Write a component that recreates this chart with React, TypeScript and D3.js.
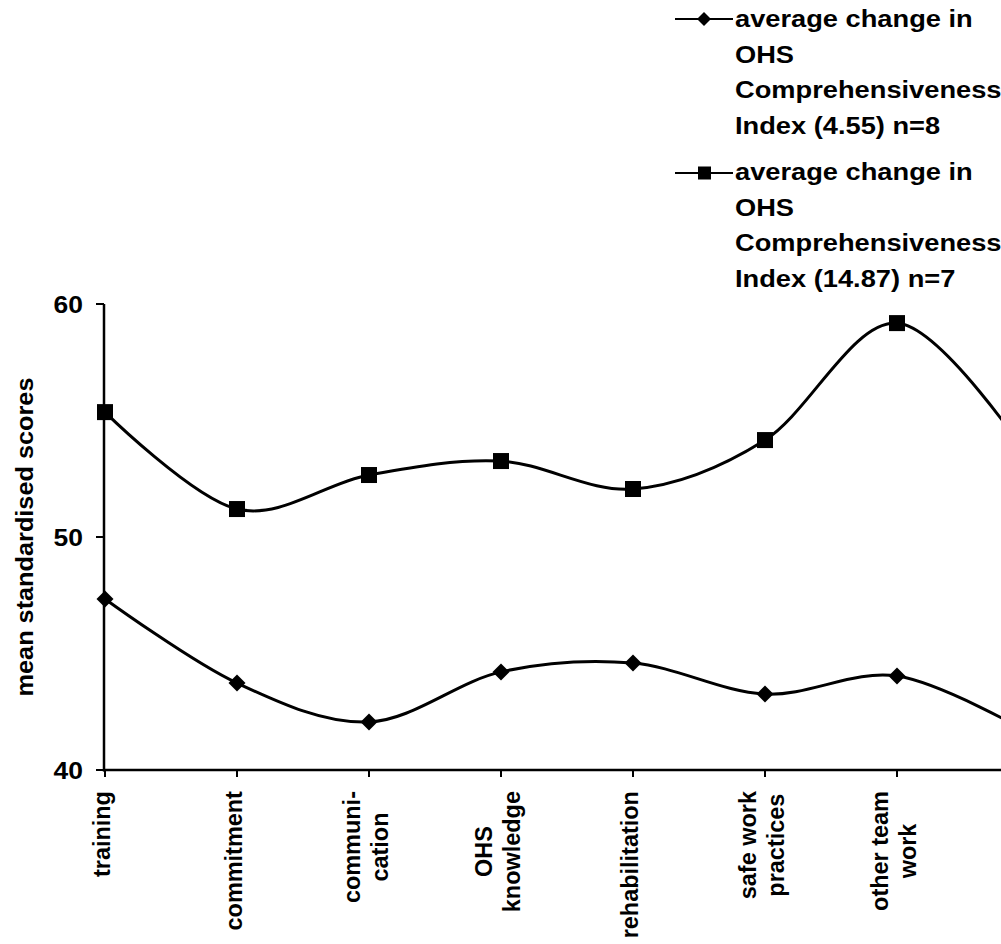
import React from "react";
import * as d3 from "d3";

const categories = [
  "training",
  "commitment",
  "communication",
  "OHS knowledge",
  "rehabilitation",
  "safe work practices",
  "other team work",
  "(beyond edge)",
];
const categoryLabelLines: string[][] = [
  ["training"],
  ["commitment"],
  ["communi-", "cation"],
  ["OHS", "knowledge"],
  ["rehabilitation"],
  ["safe work", "practices"],
  ["other team", "work"],
  [],
];
const seriesLow = [47.34, 43.73, 42.06, 44.21, 44.59, 43.26, 44.03, 41.6];
const seriesHigh = [55.36, 51.2, 52.66, 53.26, 52.06, 54.16, 59.18, 53.4];
const yTicks = [40, 50, 60];
const yTitle = "mean standardised scores";
const legendLow = ["average change in", "OHS", "Comprehensiveness", "Index (4.55) n=8"];
const legendHigh = ["average change in", "OHS", "Comprehensiveness", "Index (14.87) n=7"];

const FONT = "'Liberation Sans', Arial, Helvetica, sans-serif";

export default function App() {
  const ref = React.useRef<SVGSVGElement>(null);

  React.useEffect(() => {
    const svg = d3.select(ref.current);
    svg.selectAll("*").remove();

    const x = d3.scalePoint<string>().domain(categories).range([105, 1029]);
    const y = d3.scaleLinear().domain([40, 60]).range([770, 304]);
    const axisX = 104;

    const g = svg.append("g");

    // Axes
    g.append("line")
      .attr("x1", axisX).attr("x2", axisX)
      .attr("y1", y(60)).attr("y2", y(40) + 1.5)
      .attr("stroke", "#000").attr("stroke-width", 2.5);
    g.append("line")
      .attr("x1", axisX - 1).attr("x2", 1010)
      .attr("y1", y(40)).attr("y2", y(40))
      .attr("stroke", "#000").attr("stroke-width", 2.5);
    yTicks.forEach((t) => {
      g.append("line")
        .attr("x1", axisX - 8).attr("x2", axisX)
        .attr("y1", y(t)).attr("y2", y(t))
        .attr("stroke", "#000").attr("stroke-width", 2);
      g.append("text")
        .attr("transform", `translate(83,${y(t) + 8.5}) scale(1.08,1)`)
        .attr("text-anchor", "end")
        .attr("font-family", FONT)
        .attr("font-weight", "bold")
        .attr("font-size", 24.5)
        .text(String(t));
    });
    categories.forEach((c) => {
      g.append("line")
        .attr("x1", x(c)!).attr("x2", x(c)!)
        .attr("y1", y(40)).attr("y2", y(40) + 7)
        .attr("stroke", "#000").attr("stroke-width", 2);
    });

    // Category labels
    const sxCat = 1.02;
    categories.forEach((c, ci) => {
      const lines = categoryLabelLines[ci];
      if (!lines.length) return;
      const lg = g.append("g").attr("transform", `translate(${x(c)},791) rotate(-90)`);
      const n = lines.length;
      const texts = lines.map((ln) =>
        lg.append("text")
          .attr("font-family", FONT)
          .attr("font-weight", "bold")
          .attr("font-size", 23)
          .attr("text-anchor", "start")
          .text(ln)
      );
      const lens = texts.map((t) => (t.node() as SVGTextElement).getComputedTextLength() * sxCat);
      const B = Math.max(...lens);
      texts.forEach((t, i) => {
        const start = -B / 2 - lens[i] / 2;
        const by = 5 + (i - (n - 1) / 2) * 28;
        t.attr("transform", `translate(${start},${by}) scale(${sxCat},1)`);
      });
    });

    // Y title
    g.append("text")
      .attr("transform", `translate(33,537) rotate(-90) scale(1.1,1)`)
      .attr("text-anchor", "middle")
      .attr("font-family", FONT)
      .attr("font-weight", "bold")
      .attr("font-size", 23)
      .text(yTitle);

    // Lines
    const line = d3
      .line<number>()
      .x((_, i) => x(categories[i])!)
      .y((d) => y(d))
      .curve(d3.curveCatmullRom.alpha(0));

    g.append("path").attr("d", line(seriesLow)!)
      .attr("fill", "none").attr("stroke", "#000").attr("stroke-width", 3);
    g.append("path").attr("d", line(seriesHigh)!)
      .attr("fill", "none").attr("stroke", "#000").attr("stroke-width", 3);

    const diamond = (cx: number, cy: number, r: number) =>
      `M${cx},${cy - r}L${cx + r},${cy}L${cx},${cy + r}L${cx - r},${cy}Z`;

    seriesLow.forEach((v, i) => {
      g.append("path").attr("d", diamond(x(categories[i])!, y(v), 8.5)).attr("fill", "#000");
    });
    seriesHigh.forEach((v, i) => {
      g.append("rect")
        .attr("x", x(categories[i])! - 8).attr("y", y(v) - 8)
        .attr("width", 16).attr("height", 16).attr("fill", "#000");
    });

    // Legend
    const legendEntry = (ly: number, baseline: number, lines: string[], kind: "d" | "s") => {
      g.append("line").attr("x1", 675).attr("x2", 733).attr("y1", ly).attr("y2", ly)
        .attr("stroke", "#000").attr("stroke-width", 2.2);
      if (kind === "d") {
        g.append("path").attr("d", diamond(704, ly, 7)).attr("fill", "#000");
      } else {
        g.append("rect").attr("x", 698).attr("y", ly - 6.5).attr("width", 13).attr("height", 13).attr("fill", "#000");
      }
      lines.forEach((ln, i) => {
        g.append("text")
          .attr("transform", `translate(735,${baseline + i * 35.5}) scale(1.17,1)`)
          .attr("font-family", FONT)
          .attr("font-weight", "bold")
          .attr("font-size", 23.3)
          .text(ln);
      });
    };
    legendEntry(19, 27, legendLow, "d");
    legendEntry(173, 180, legendHigh, "s");
  }, []);

  return (
    <svg
      ref={ref}
      width={1001}
      height={944}
      style={{ position: "absolute", left: 0, top: 0, background: "#fff" }}
    />
  );
}
